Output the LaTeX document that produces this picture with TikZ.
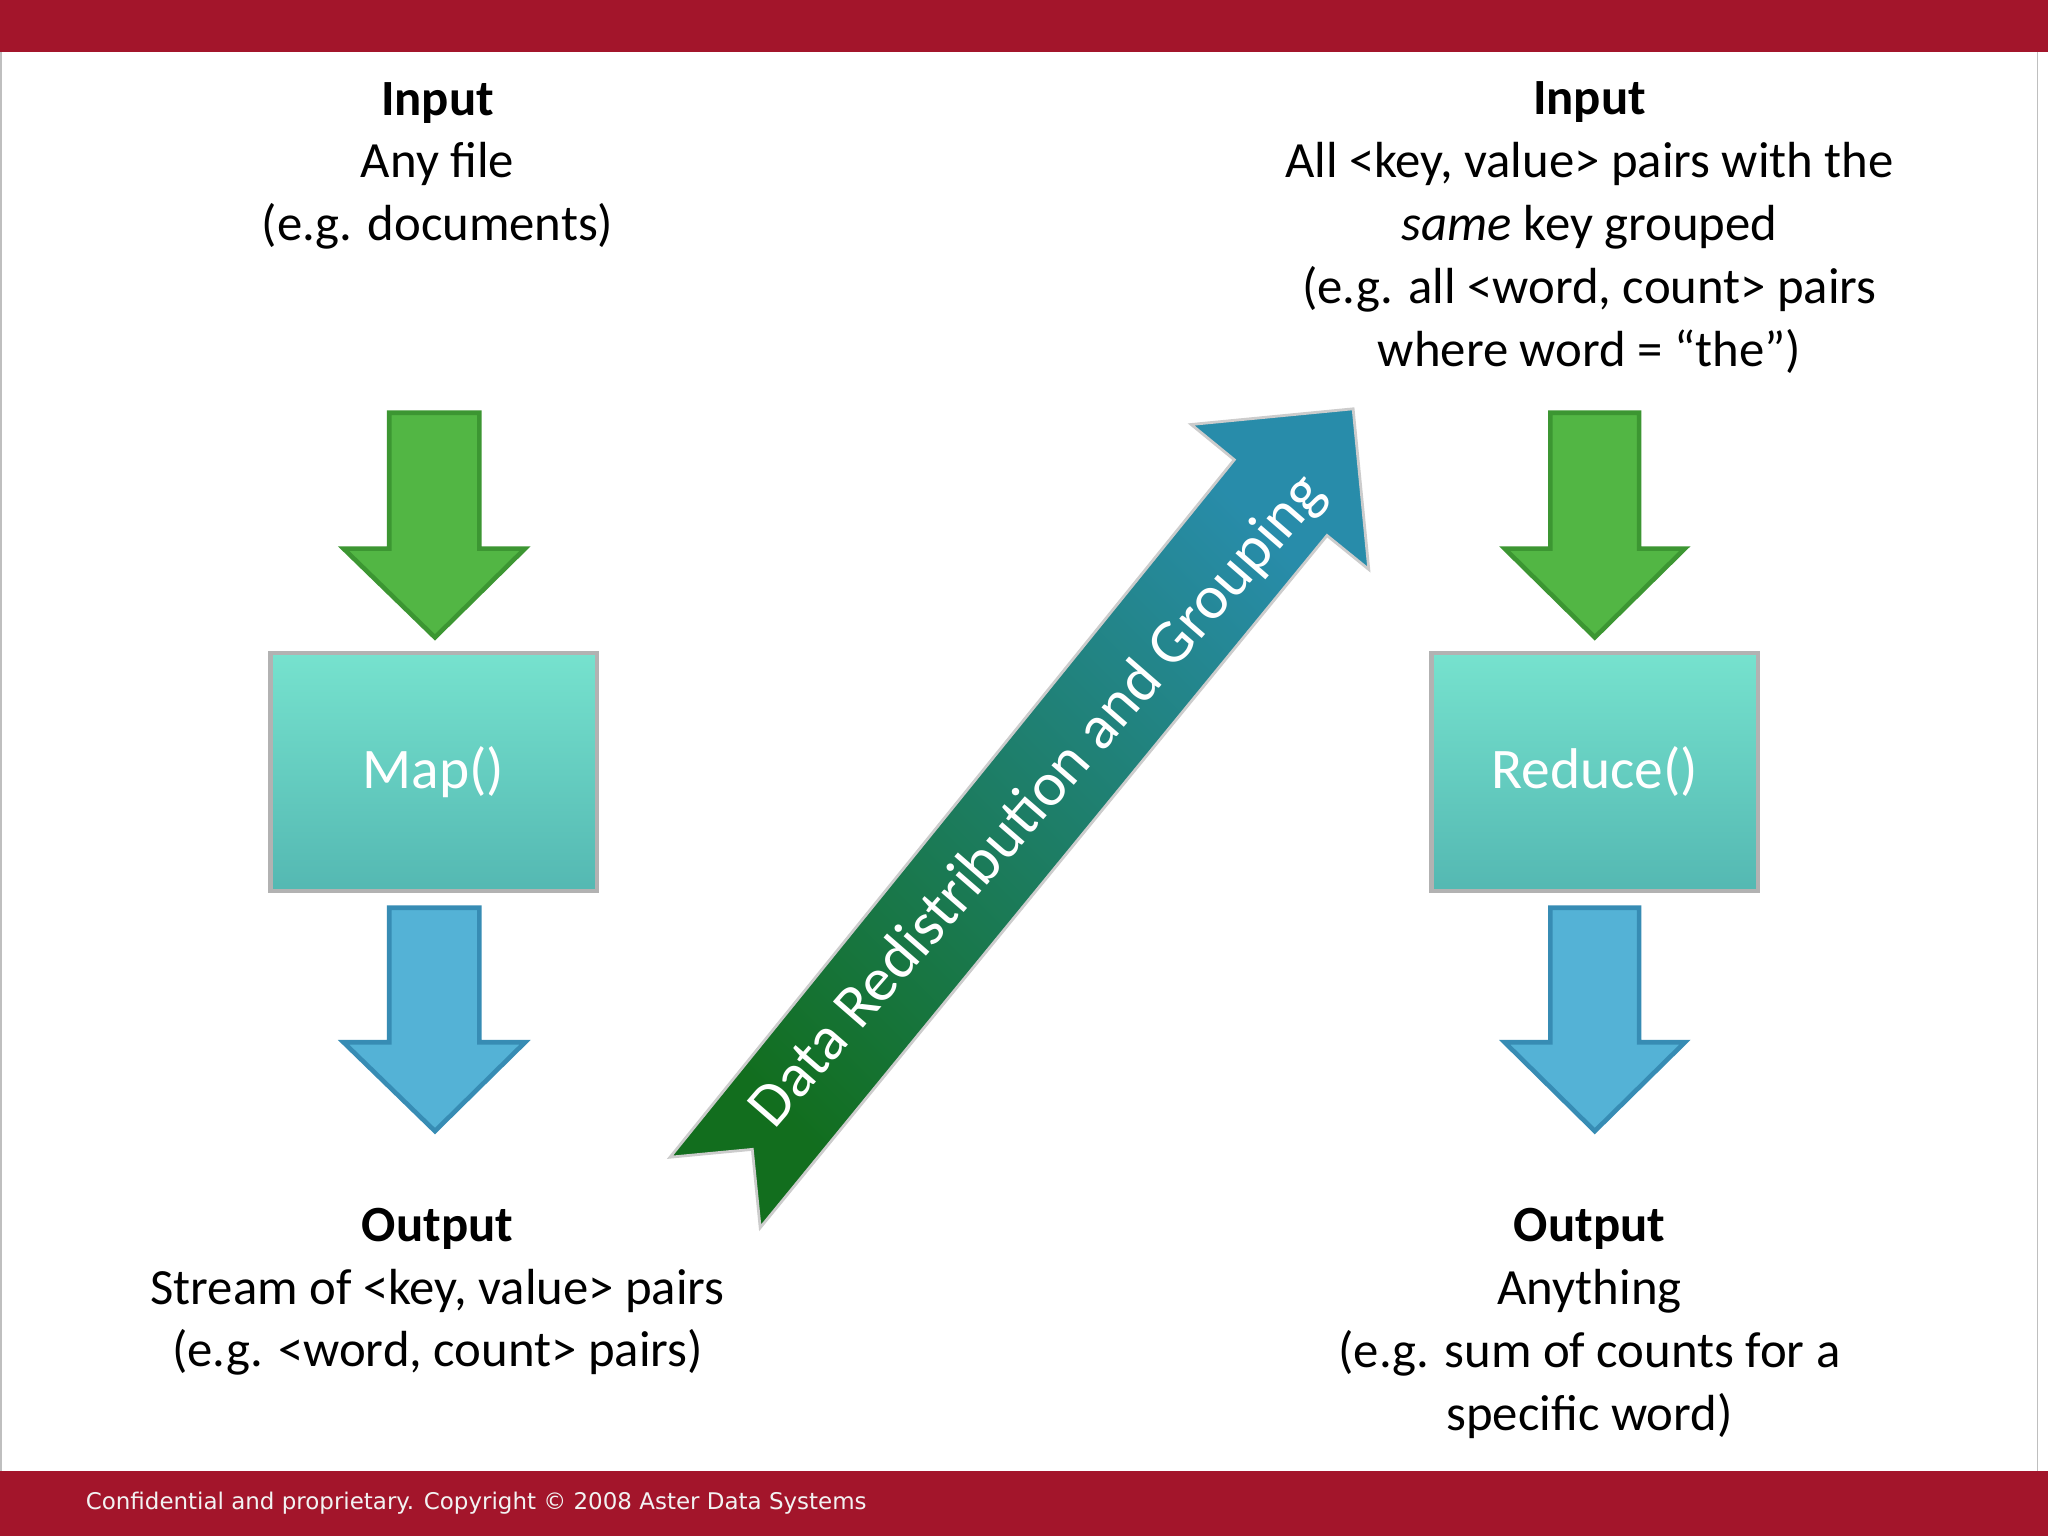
\documentclass[tikz,border=0pt]{standalone}
\usepackage{fontspec}
\setmainfont{Carlito}
\newfontfamily\footfont{DejaVu Sans}
\begin{document}
\begin{tikzpicture}[x=0.01cm,y=-0.01cm]
\definecolor{barred}{RGB}{163,21,43}
\definecolor{gfill}{RGB}{82,182,68}
\definecolor{gdraw}{RGB}{60,150,50}
\definecolor{bfill}{RGB}{84,178,214}
\definecolor{bdraw}{RGB}{55,140,180}
\definecolor{boxtop}{RGB}{118,226,206}
\definecolor{boxbot}{RGB}{84,184,178}
\definecolor{dgreen}{RGB}{18,110,30}
\definecolor{dteal}{RGB}{40,140,170}
\tikzset{
  txt/.style={align=center, font=\fontsize{11.05}{13.7}\selectfont, inner sep=0pt},
  procbox/.style={draw=gray!60, line width=1pt, top color=boxtop, bottom color=boxbot, inner sep=0pt, text=white, font=\fontsize{12.5}{14}\selectfont},
  garrow/.style={fill=gfill, draw=gdraw, line width=1pt},
  barrow/.style={fill=bfill, draw=bdraw, line width=1pt},
}
\useasboundingbox (0,0) rectangle (1568,1176);
\fill[white] (0,0) rectangle (1568,1176);
\draw[gray!50] (1,40) -- (1,1126) (1560,40) -- (1560,1126);
\fill[barred] (0,0) rectangle (1568,40);
\fill[barred] (0,1126) rectangle (1568,1176);
\node[anchor=west, inner sep=0pt, text=white!90!gray, font=\footfont\fontsize{5.0}{6}\selectfont] (foot) at (65,1151) {Confidential and proprietary. Copyright \textcopyright\ 2008 Aster Data Systems};

% left column
\draw[garrow] (298,316) -- (367,316) -- (367,420) -- (402,420) -- (333,488) -- (263,420) -- (298,420) -- cycle;
\node[procbox, minimum width=2.5cm, minimum height=1.82cm] (map) at (332,591) {Map()};
\draw[barrow] (298,695) -- (367,695) -- (367,798) -- (402,798) -- (333,866) -- (263,798) -- (298,798) -- cycle;
\node[txt] (in1) at (335,127) {\textbf{Input}\\Any file\\(e.g. documents)};
\node[txt] (out1) at (335,989) {\textbf{Output}\\Stream of <key, value> pairs\\(e.g. <word, count> pairs)};

% right column
\draw[garrow] (1187,316) -- (1255,316) -- (1255,420) -- (1290,420) -- (1221,488) -- (1152,420) -- (1187,420) -- cycle;
\node[procbox, minimum width=2.5cm, minimum height=1.82cm] (red) at (1221,591) {Reduce()};
\draw[barrow] (1187,695) -- (1255,695) -- (1255,798) -- (1290,798) -- (1221,866) -- (1152,798) -- (1187,798) -- cycle;
\node[txt] (in2) at (1217,174) {\textbf{Input}\\All <key, value> pairs with the\\\textit{same} key grouped\\(e.g. all <word, count> pairs\\where word = “the”)};
\node[txt] (out2) at (1217,1013) {\textbf{Output}\\Anything\\(e.g. sum of counts for a\\specific word)};

% big diagonal arrow
\shade[left color=dteal, right color=dgreen, shading angle=-45, draw=gray!40, line width=0.6pt]
  (513,886) -- (945,352) -- (912,325) -- (1036,313) -- (1048,436) -- (1016,410) -- (582,940) -- (576,880) -- cycle;
\node[rotate=49, text=white, font=\fontsize{13.5}{15}\selectfont] (dr) at (795,614) {Data Redistribution and Grouping};
\end{tikzpicture}
\end{document}
